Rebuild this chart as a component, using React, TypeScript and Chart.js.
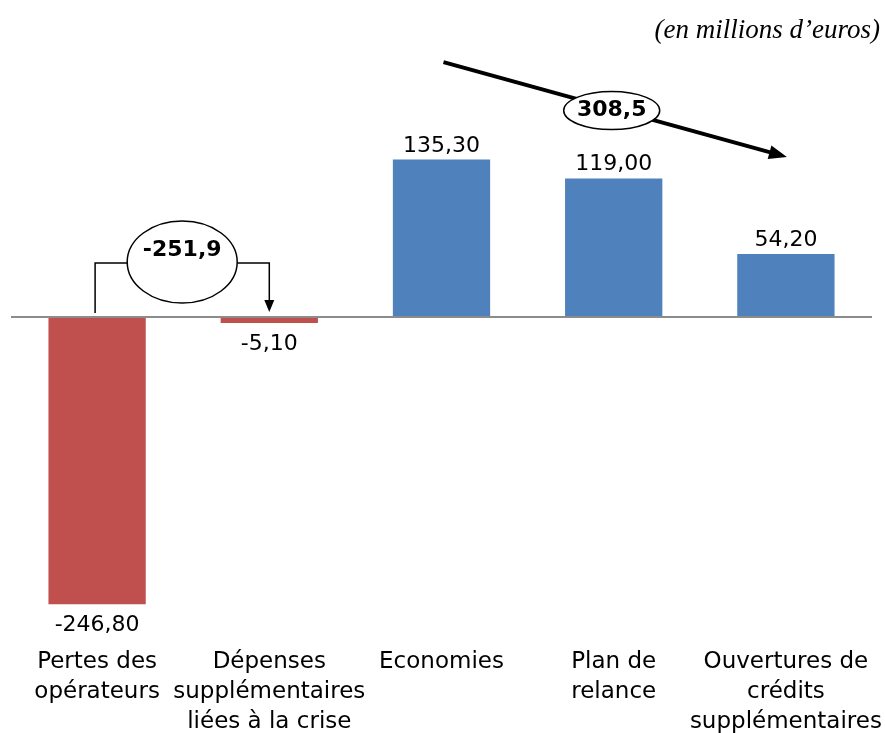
import React, { useEffect, useRef } from "react";
import { Chart, registerables } from "chart.js";

Chart.register(...registerables);

const categories: string[][] = [
  ["Pertes des", "opérateurs"],
  ["Dépenses", "supplémentaires", "liées à la crise"],
  ["Economies"],
  ["Plan de", "relance"],
  ["Ouvertures de", "crédits", "supplémentaires"],
];
const values: number[] = [-246.8, -5.1, 135.3, 119.0, 54.2];
const negativeColor = "#C0504D";
const positiveColor = "#4F81BD";
const unitLabel = "(en millions d\u2019euros)";
const bracketTotal = "-251,9";
const arrowTotal = "308,5";
const yMin = -250;
const yMax = 250;

const fmt = (v: number) => v.toFixed(2).replace(".", ",");

const annotationsPlugin = {
  id: "annotations",
  afterDatasetsDraw(chart: any) {
    const ctx = chart.ctx as CanvasRenderingContext2D;
    const xs = chart.scales.x;
    const ys = chart.scales.y;
    const meta = chart.getDatasetMeta(0);
    ctx.save();
    // value labels
    ctx.font = "22px 'DejaVu Sans'";
    ctx.fillStyle = "#000";
    ctx.textAlign = "center";
    ctx.textBaseline = "alphabetic";
    meta.data.forEach((bar: any, i: number) => {
      const v = values[i];
      if (v >= 0) ctx.fillText(fmt(v), bar.x, bar.y - 8);
      else ctx.fillText(fmt(v), bar.x, bar.y + 27);
    });

    // bracket between first two categories
    const x0 = xs.getPixelForValue(0) - 2;
    const x1 = xs.getPixelForValue(1);
    const zero = ys.getPixelForValue(0);
    const by = ys.getPixelForValue(46.4);
    const ecx = (x0 + x1) / 2;
    const ecy = by - 1;
    const erx = 55;
    const ery = 41;
    ctx.strokeStyle = "#000";
    ctx.lineWidth = 1.5;
    ctx.beginPath();
    ctx.moveTo(x0, zero - 4);
    ctx.lineTo(x0, by);
    ctx.lineTo(ecx - erx, by);
    ctx.moveTo(ecx + erx, by);
    ctx.lineTo(x1, by);
    ctx.lineTo(x1, zero - 16);
    ctx.stroke();
    ctx.fillStyle = "#000";
    ctx.beginPath();
    ctx.moveTo(x1 - 5, zero - 17);
    ctx.lineTo(x1 + 5, zero - 17);
    ctx.lineTo(x1, zero - 5);
    ctx.closePath();
    ctx.fill();
    ctx.beginPath();
    ctx.ellipse(ecx, ecy, erx, ery, 0, 0, Math.PI * 2);
    ctx.fillStyle = "#fff";
    ctx.fill();
    ctx.stroke();
    ctx.fillStyle = "#000";
    ctx.font = "bold 22px 'DejaVu Sans'";
    ctx.textBaseline = "middle";
    ctx.fillText(bracketTotal, ecx, ecy - 12);

    // big arrow from category 2 to category 4
    const ax0 = xs.getPixelForValue(2) + 2;
    const ay0 = ys.getPixelForValue(219);
    const ax1 = xs.getPixelForValue(4) + 1;
    const ay1 = ys.getPixelForValue(137.5);
    const ang = Math.atan2(ay1 - ay0, ax1 - ax0);
    const headLen = 18;
    const headW = 7;
    ctx.lineWidth = 4;
    ctx.beginPath();
    ctx.moveTo(ax0, ay0);
    ctx.lineTo(ax1 - Math.cos(ang) * headLen * 0.8, ay1 - Math.sin(ang) * headLen * 0.8);
    ctx.stroke();
    ctx.beginPath();
    ctx.moveTo(ax1, ay1);
    ctx.lineTo(
      ax1 - Math.cos(ang) * headLen - Math.sin(ang) * headW,
      ay1 - Math.sin(ang) * headLen + Math.cos(ang) * headW
    );
    ctx.lineTo(
      ax1 - Math.cos(ang) * headLen + Math.sin(ang) * headW,
      ay1 - Math.sin(ang) * headLen - Math.cos(ang) * headW
    );
    ctx.closePath();
    ctx.fill();
    const mcx = xs.getPixelForValue(3) - 2;
    const mcy = ay0 + ((mcx - ax0) / (ax1 - ax0)) * (ay1 - ay0) + 2;
    ctx.lineWidth = 1.5;
    ctx.beginPath();
    ctx.ellipse(mcx, mcy, 48, 19, 0, 0, Math.PI * 2);
    ctx.fillStyle = "#fff";
    ctx.fill();
    ctx.stroke();
    ctx.fillStyle = "#000";
    ctx.font = "bold 22px 'DejaVu Sans'";
    ctx.fillText(arrowTotal, mcx, mcy);

    // unit label
    ctx.font = "italic 27px 'Liberation Serif'";
    ctx.textAlign = "right";
    ctx.textBaseline = "alphabetic";
    ctx.fillText(unitLabel, 880, 38);
    ctx.restore();
  },
};

export default function App() {
  const canvasRef = useRef<HTMLCanvasElement | null>(null);
  useEffect(() => {
    if (!canvasRef.current) return;
    const chart = new Chart(canvasRef.current, {
      type: "bar",
      data: {
        labels: categories,
        datasets: [
          {
            data: values,
            backgroundColor: values.map((v) => (v < 0 ? negativeColor : positiveColor)),
            borderWidth: 0,
            barPercentage: 0.565,
            categoryPercentage: 1,
          },
        ],
      },
      options: {
        animation: false,
        responsive: false,
        maintainAspectRatio: false,
        layout: { padding: { left: 11, right: 13, top: 26, bottom: 0 } },
        plugins: {
          legend: { display: false },
          tooltip: { enabled: false },
          title: { display: false },
        },
        scales: {
          x: {
            grid: { display: false, drawTicks: false },
            border: { display: false },
            afterFit: (scale: any) => {
              scale.height = 125;
              scale.paddingLeft = 0;
              scale.paddingRight = 0;
            },
            ticks: {
              color: "#000",
              padding: 39,
              autoSkip: false,
              maxRotation: 0,
              font: { family: "'DejaVu Sans'", size: 23, lineHeight: 1.3 },
            },
          },
          y: {
            min: yMin,
            max: yMax,
            afterFit: (scale: any) => {
              scale.width = 0;
              scale.paddingTop = 0;
              scale.paddingBottom = 0;
            },
            ticks: { display: false, stepSize: 50 },
            border: { display: false },
            grid: {
              drawTicks: false,
              lineWidth: 2,
              color: (c: any) => (c.tick && c.tick.value === 0 ? "#8c8c8c" : "rgba(0,0,0,0)"),
            },
          },
        },
      },
      plugins: [annotationsPlugin],
    });
    return () => chart.destroy();
  }, []);
  return (
    <div style={{ position: "fixed", left: 0, top: 0, width: 885, height: 733, background: "#fff" }}>
      <canvas ref={canvasRef} width={885} height={733} style={{ width: 885, height: 733 }} />
    </div>
  );
}
